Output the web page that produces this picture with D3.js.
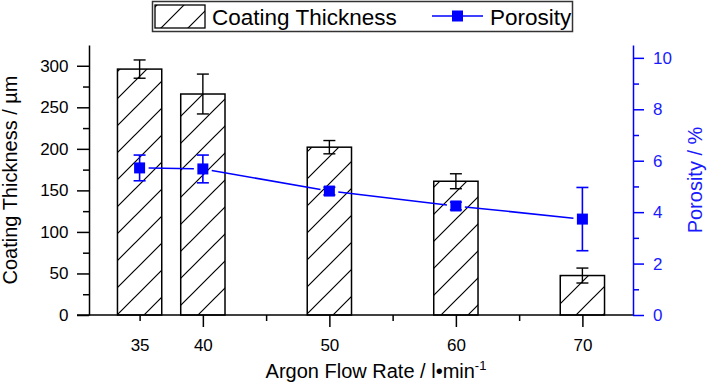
<!DOCTYPE html>
<html>
<head>
<meta charset="utf-8">
<script src="https://cdn.jsdelivr.net/npm/d3@7"></script>
<style>
  body { margin: 0; background: #fff; }
  svg { display: block; font-family: "Liberation Sans", Arial, sans-serif; }
</style>
</head>
<body>
<div id="chart"></div>
<script>
// Data
const flowRates = [35, 40, 50, 60, 70];
const thickness = [296, 266, 202, 161, 47.5];
const thicknessErr = [11, 24, 8, 9, 9];
const porosity = [5.72, 5.68, 4.82, 4.24, 3.73];
const porosityErr = [0.5, 0.54, 0.15, 0.15, 1.23];
const xLabelTicks = [35, 40, 50, 60, 70];
const xMinorTicks = [45, 55, 65];
const yLeftMajor = [0, 50, 100, 150, 200, 250, 300];
const yLeftMinor = [25, 75, 125, 175, 225, 275];
const yRightMajor = [0, 2, 4, 6, 8, 10];
const yRightMinor = [1, 3, 5, 7, 9];

const width = 708, height = 383;
const blue = '#0000ff';
const blueText = '#1a1aff';

const svg = d3.select('#chart').append('svg')
  .attr('width', width)
  .attr('height', height);

// hatch pattern
const defs = svg.append('defs');
const hatch = defs.append('pattern')
  .attr('id', 'hatch')
  .attr('patternUnits', 'userSpaceOnUse')
  .attr('width', 27)
  .attr('height', 27);
hatch.append('rect').attr('width', 27).attr('height', 27).attr('fill', '#fff');
hatch.append('path')
  .attr('d', 'M0,27 L27,0 M-3,3 L3,-3 M24,30 L30,24')
  .attr('stroke', '#000')
  .attr('stroke-width', 1.2);

// Scales
const x = d3.scaleLinear().domain([31, 74]).range([89, 633]);
const yL = d3.scaleLinear().domain([0, 325]).range([315, 45]);
const yR = d3.scaleLinear().domain([0, 10.5]).range([315, 45]);
const barHalf = 1.75;

// Bars
svg.selectAll('.bar')
  .data(flowRates)
  .enter()
  .append('rect')
  .attr('class', 'bar')
  .attr('x', d => x(d - barHalf))
  .attr('width', d => x(d + barHalf) - x(d - barHalf))
  .attr('y', (d, i) => yL(thickness[i]))
  .attr('height', (d, i) => yL(0) - yL(thickness[i]))
  .attr('fill', 'url(#hatch)')
  .attr('stroke', '#000')
  .attr('stroke-width', 1.5);

// Error bars for thickness
const capW = 6;
flowRates.forEach((d, i) => {
  const cx = x(d);
  const y1 = yL(thickness[i] + thicknessErr[i]);
  const y2 = yL(thickness[i] - thicknessErr[i]);
  const eg = svg.append('g').attr('stroke', '#000').attr('stroke-width', 1.4);
  eg.append('line').attr('x1', cx).attr('x2', cx).attr('y1', y1).attr('y2', y2);
  eg.append('line').attr('x1', cx - capW).attr('x2', cx + capW).attr('y1', y1).attr('y2', y1);
  eg.append('line').attr('x1', cx - capW).attr('x2', cx + capW).attr('y1', y2).attr('y2', y2);
});

// Axes
function styleAxis(g, color) {
  g.selectAll('path, line').attr('stroke', color).attr('stroke-width', 1.5);
  g.selectAll('text').attr('fill', color).attr('font-size', '17px')
    .attr('font-family', '"Liberation Sans", Arial, sans-serif');
}

// Bottom axis
const xAxis = svg.append('g')
  .attr('transform', 'translate(0,315)')
  .call(d3.axisBottom(x).tickValues(xLabelTicks).tickSizeInner(12).tickSizeOuter(0).tickPadding(12));
xAxis.selectAll('.tick line').attr('y2', d => d % 10 ? 6 : 12);
styleAxis(xAxis, '#000');
xAxis.select('.domain').attr('d', 'M77,0H633');

const xMinor = svg.append('g')
  .attr('transform', 'translate(0,315)')
  .call(d3.axisBottom(x).tickValues(xMinorTicks).tickSize(6).tickFormat(''));
xMinor.select('.domain').remove();
styleAxis(xMinor, '#000');

// Left axis
const yAxisL = svg.append('g')
  .attr('transform', 'translate(89,0)')
  .call(d3.axisLeft(yL).tickValues(yLeftMajor).tickSizeInner(12).tickSizeOuter(0).tickPadding(8.5));
styleAxis(yAxisL, '#000');
const yMinorL = svg.append('g')
  .attr('transform', 'translate(89,0)')
  .call(d3.axisLeft(yL).tickValues(yLeftMinor).tickSize(6).tickFormat(''));
yMinorL.select('.domain').remove();
styleAxis(yMinorL, '#000');

// Right axis
const yAxisR = svg.append('g')
  .attr('transform', 'translate(633,0)')
  .call(d3.axisRight(yR).tickValues(yRightMajor).tickSizeInner(11).tickSizeOuter(0).tickPadding(9));
styleAxis(yAxisR, blue);
yAxisR.selectAll('text').attr('fill', blueText);
const yMinorR = svg.append('g')
  .attr('transform', 'translate(633,0)')
  .call(d3.axisRight(yR).tickValues(yRightMinor).tickSize(6).tickFormat(''));
yMinorR.select('.domain').remove();
styleAxis(yMinorR, blue);

// Porosity line, with small gaps at the markers
const pts = flowRates.map((d, i) => [x(d), yR(porosity[i])]);
const gap = 9;
for (let i = 0; i < pts.length - 1; i++) {
  const [x0, y0] = pts[i];
  const [x1, y1] = pts[i + 1];
  const len = Math.hypot(x1 - x0, y1 - y0);
  const ux = (x1 - x0) / len, uy = (y1 - y0) / len;
  svg.append('line')
    .attr('x1', x0 + ux * gap).attr('y1', y0 + uy * gap)
    .attr('x2', x1 - ux * gap).attr('y2', y1 - uy * gap)
    .attr('stroke', blue)
    .attr('stroke-width', 1.5);
}

// Porosity error bars
flowRates.forEach((d, i) => {
  const cx = x(d);
  const y1 = yR(porosity[i] + porosityErr[i]);
  const y2 = yR(porosity[i] - porosityErr[i]);
  const eg = svg.append('g').attr('stroke', blue).attr('stroke-width', 1.6);
  eg.append('line').attr('x1', cx).attr('x2', cx).attr('y1', y1).attr('y2', y2);
  eg.append('line').attr('x1', cx - capW).attr('x2', cx + capW).attr('y1', y1).attr('y2', y1);
  eg.append('line').attr('x1', cx - capW).attr('x2', cx + capW).attr('y1', y2).attr('y2', y2);
});

// Porosity markers
const mk = 11;
svg.selectAll('.marker')
  .data(flowRates)
  .enter()
  .append('rect')
  .attr('class', 'marker')
  .attr('x', d => x(d) - mk / 2)
  .attr('y', (d, i) => yR(porosity[i]) - mk / 2)
  .attr('width', mk)
  .attr('height', mk)
  .attr('fill', blue);

// Axis titles
svg.append('text')
  .attr('transform', 'translate(17,180) rotate(-90)')
  .attr('text-anchor', 'middle')
  .attr('font-size', '20px')
  .attr('fill', '#000')
  .text('Coating Thickness / µm');

svg.append('text')
  .attr('transform', 'translate(702,180) rotate(-90)')
  .attr('text-anchor', 'middle')
  .attr('font-size', '20px')
  .attr('fill', blueText)
  .text('Porosity / %');

const xTitle = svg.append('text')
  .attr('x', 376)
  .attr('y', 378)
  .attr('text-anchor', 'middle')
  .attr('font-size', '20px')
  .attr('fill', '#000');
xTitle.append('tspan').text('Argon Flow Rate / l•min');
xTitle.append('tspan').attr('dy', -8).attr('font-size', '13px').text('-1');

// Legend
const legend = svg.append('g');
legend.append('rect')
  .attr('x', 152.5).attr('y', 1.5)
  .attr('width', 420).attr('height', 30)
  .attr('fill', '#fff')
  .attr('stroke', '#333')
  .attr('stroke-width', 1.5);
legend.append('rect')
  .attr('x', 155).attr('y', 5)
  .attr('width', 50).attr('height', 23)
  .attr('fill', 'url(#hatch)')
  .attr('stroke', '#000')
  .attr('stroke-width', 1.3);
legend.append('text')
  .attr('x', 212).attr('y', 25)
  .attr('font-size', '22.5px')
  .attr('fill', '#000')
  .text('Coating Thickness');
legend.append('line')
  .attr('x1', 432).attr('x2', 483)
  .attr('y1', 16).attr('y2', 16)
  .attr('stroke', blue).attr('stroke-width', 1.5);
legend.append('rect')
  .attr('x', 457.5 - mk / 2).attr('y', 16 - mk / 2)
  .attr('width', mk).attr('height', mk)
  .attr('fill', blue);
legend.append('text')
  .attr('x', 490).attr('y', 25)
  .attr('font-size', '22.5px')
  .attr('fill', '#000')
  .text('Porosity');
</script>
</body>
</html>
